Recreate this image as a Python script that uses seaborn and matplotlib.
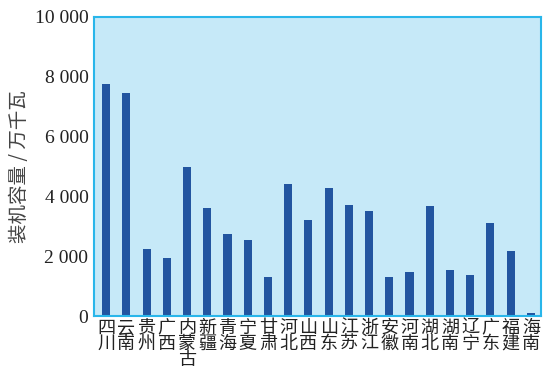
import matplotlib
matplotlib.use("Agg")
import matplotlib.pyplot as plt
import seaborn as sns
import pandas as pd
from matplotlib.ticker import FuncFormatter

# provinces and installed capacity (10k kW)
provinces = ["四川", "云南", "贵州", "广西", "内蒙古", "新疆", "青海", "宁夏", "甘肃",
             "河北", "山西", "山东", "江苏", "浙江", "安徽", "河南", "湖北", "湖南",
             "辽宁", "广东", "福建", "海南"]
capacity = [7770, 7470, 2230, 1930, 4970, 3600, 2730, 2530, 1300,
            4430, 3200, 4270, 3730, 3500, 1300, 1470, 3670, 1530,
            1370, 3130, 2170, 100]
y_ticks = [0, 2000, 4000, 6000, 8000, 10000]

df = pd.DataFrame({"province": provinces, "capacity": capacity})

sns.set_theme(style="white")
plt.rcParams['font.family'] = ['Noto Sans CJK SC', 'DejaVu Sans']

spine_c = "#29B6EA"
fig = plt.figure(figsize=(5.56, 3.86), dpi=100)
ax = fig.add_axes([0.169, 0.181, 0.804, 0.775])
ax.set_facecolor("#C6E9F8")

sns.barplot(data=df, x="province", y="capacity", color="#2255A0",
            width=0.4, saturation=1, linewidth=0, ax=ax)

ax.set_xlim(-0.6, 21.5)
ax.set_ylim(0, 10000)
ax.set_yticks(y_ticks)
ax.yaxis.set_major_formatter(FuncFormatter(lambda v, p: f"{int(v):,}".replace(",", " ")))
for lab in ax.get_yticklabels():
    lab.set_family("Liberation Serif")
    lab.set_fontsize(14)
    lab.set_color("#222222")

ax.set_xticks(range(len(provinces)))
ax.set_xticklabels(["\n".join(p) for p in provinces], fontsize=13,
                   color="#222222", linespacing=0.85, va="top")
ax.tick_params(axis="x", length=0, pad=2)
ax.tick_params(axis="y", direction="in", length=7, width=1.5, color=spine_c, pad=4)

for s in ax.spines.values():
    s.set_color(spine_c)
    s.set_linewidth(1.5)

ax.set_xlabel("")
ax.set_ylabel("装机容量 / 万千瓦", fontsize=14, color="#444444", labelpad=3)

fig.savefig("out.png", dpi=100)
